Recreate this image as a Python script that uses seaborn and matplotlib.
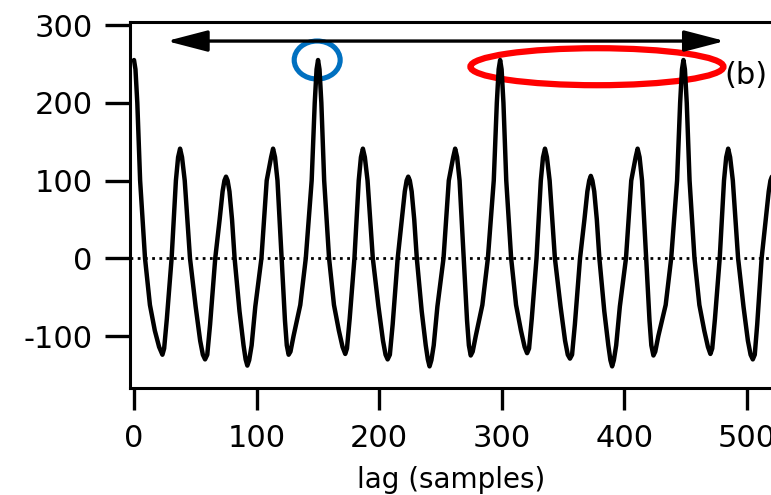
import matplotlib
matplotlib.use("Agg")
import matplotlib.pyplot as plt
from matplotlib.patches import Ellipse
import seaborn as sns
import pandas as pd

# ---- data (lag in samples, autocorrelation value) ----
lag_c0 = [0, 1.2, 2.7, 5, 9, 13, 17, 20.5, 23.2,
          24.6, 26.8, 30.7, 34.2, 36, 37.6, 39.2, 41.4, 45.7,
          50.3, 54, 56.2, 58, 59.8, 62.1, 66.3, 69.9, 72.3,
          73.8, 75.1, 76.4, 77.9, 80, 82.1, 86.1, 89.4, 91.1,
          92.5, 94, 96, 99, 104, 108.3, 111.9, 113.5, 115.1,
          117.1, 120.5, 123.2, 124.7, 126.2, 127.7, 130.2, 135.7, 140.2,
          145, 147.5, 149]
val_c0 = [255, 243, 200, 100, 0, -60, -93, -114, -124,
          -116, -78, 0, 100, 130, 141, 130, 100, 0,
          -62, -106, -124, -130, -124, -85, 0, 50, 86,
          100, 105, 100, 86, 50, 0, -68, -112, -130,
          -138, -131, -112, -62, 0, 100, 130, 141, 130,
          100, 0, -80, -112, -124, -120, -100, -60, 0,
          100, 200, 243]

lag_c1 = [150.2, 151.4, 152.9, 155.2, 159.2, 163.2, 167.2, 170.2, 172.4,
          173.8, 176, 179.9, 183.4, 185.2, 186.8, 188.4, 190.6, 194.9,
          199.5, 203.2, 205.3, 207, 208.8, 211.1, 215.2, 218.6, 221,
          222.5, 223.8, 225.1, 226.6, 228.7, 230.8, 234.8, 238.1, 239.8,
          241.2, 242.7, 244.6, 247.6, 252.6, 256.9, 260.5, 262.1, 263.7,
          265.7, 269.1, 271.8, 273.3, 274.8, 276.4, 278.9, 284.3, 288.8,
          293.6, 296.1, 297.6]
val_c1 = [255, 243, 200, 100, 0, -60, -93, -114, -123,
          -116, -78, 0, 100, 130, 141, 130, 100, 0,
          -62, -106, -124, -130, -124, -85, 0, 50, 86,
          100, 105, 100, 86, 50, 0, -68, -112, -130,
          -139, -131, -112, -62, 0, 100, 130, 141, 130,
          100, 0, -80, -112, -125, -120, -100, -60, 0,
          100, 200, 243]

lag_c2 = [298.8, 300, 301.5, 303.8, 307.8, 311.8, 315.8, 318.8, 320.8,
          322.4, 324.6, 328.5, 332, 333.8, 335.4, 337, 339.2, 343.5,
          348.1, 351.8, 354, 355.8, 357.5, 359.8, 364, 367.6, 370,
          371.5, 372.8, 374.1, 375.6, 377.7, 379.8, 383.8, 387.1, 388.8,
          390.2, 391.6, 393.5, 396.5, 401.5, 405.8, 409.4, 411, 412.6,
          414.6, 418, 420.7, 422.2, 423.9, 425.4, 427.9, 433.9, 438.4,
          443.2, 445.7, 447.2]
val_c2 = [255, 243, 200, 100, 0, -60, -93, -114, -122,
          -116, -78, 0, 100, 130, 141, 130, 100, 0,
          -62, -106, -124, -129, -124, -85, 0, 50, 86,
          100, 106, 100, 86, 50, 0, -68, -112, -131,
          -139, -131, -112, -62, 0, 100, 130, 141, 130,
          100, 0, -80, -112, -125, -120, -100, -60, 0,
          100, 200, 243]

lag_c3 = [448.4, 449.6, 451.1, 453.4, 457.4, 461.4, 465.4, 468.4, 470.4,
          471.9, 474.1, 478, 481.5, 483.3, 484.9, 486.5, 488.7, 493,
          497.4, 501, 503.2, 505, 506.6, 508.6, 512.2, 515.6, 518,
          519.4, 520.6, 521.9, 523.4]
val_c3 = [255, 243, 200, 100, 0, -60, -93, -114, -123,
          -116, -78, 0, 100, 130, 141, 130, 100, 0,
          -62, -106, -124, -130, -124, -85, 0, 50, 86,
          100, 105, 100, 86]

x_ticks = [0, 100, 200, 300, 400, 500]
y_ticks = [-100, 0, 100, 200, 300]
x_label = "lag (samples)"
panel_label = "(b)"

df = pd.DataFrame({
    "lag": lag_c0 + lag_c1 + lag_c2 + lag_c3,
    "acf": val_c0 + val_c1 + val_c2 + val_c3,
})

# ---- style ----
sns.set_theme(style="white")
plt.rcParams["font.family"] = ["DejaVu Sans"]
plt.rcParams["axes.unicode_minus"] = False

W, H = 771, 495
fig = plt.figure(figsize=(W / 100, H / 100), dpi=100)
# axes box: left spine at x=130px, top at y=22px, bottom at y=388px; right side runs off the figure
ax = fig.add_axes([130 / W, (H - 388) / H, 650 / W, 366 / H])

ax.axhline(0, color="black", lw=2.0, ls=(0, (1, 1.6)), zorder=1)
sns.lineplot(data=df, x="lag", y="acf", ax=ax, color="black", lw=3.2,
             estimator=None, sort=False, zorder=3)

ax.set_xlim(-3.26, 527.2)
ax.set_ylim(-166.8, 303.9)
ax.set_xticks(x_ticks)
ax.set_yticks(y_ticks)
ax.set_xticklabels([str(v) for v in x_ticks])
ax.set_yticklabels([str(v) for v in y_ticks])
ax.set_xlabel(x_label, fontsize=20, color="black")
ax.set_ylabel("")
ax.xaxis.set_label_coords(0.494, -0.212)

for s in ax.spines.values():
    s.set_linewidth(2.2)
    s.set_color("black")
ax.tick_params(axis="x", direction="out", length=15.8, width=2.4, pad=10,
               labelsize=22, colors="black", bottom=True)
ax.tick_params(axis="y", direction="out", length=18, width=2.4, pad=9,
               labelsize=22, colors="black", left=True)

# double-headed arrow spanning one period
ax.annotate("", xy=(482.3, 279.4), xytext=(26.7, 279.4),
            arrowprops=dict(arrowstyle="<|-|>,head_length=25,head_width=6.5",
                            mutation_scale=1, lw=2.4, color="black",
                            shrinkA=0, shrinkB=0),
            zorder=4)

# highlight ellipses
ax.add_patch(Ellipse((149.5, 255), 37.5, 48.9, fill=False,
                     edgecolor="#0070C0", lw=3.7, zorder=2, clip_on=False))
ax.add_patch(Ellipse((377.8, 246.4), 206.5, 47.6, fill=False,
                     edgecolor="#FF0000", lw=4.5, zorder=2, clip_on=False))

fig.text(746 / W, 1 - 75 / H, panel_label, ha="center", va="center",
         fontsize=22, color="black")

fig.savefig("out.png", dpi=100, facecolor="white")
